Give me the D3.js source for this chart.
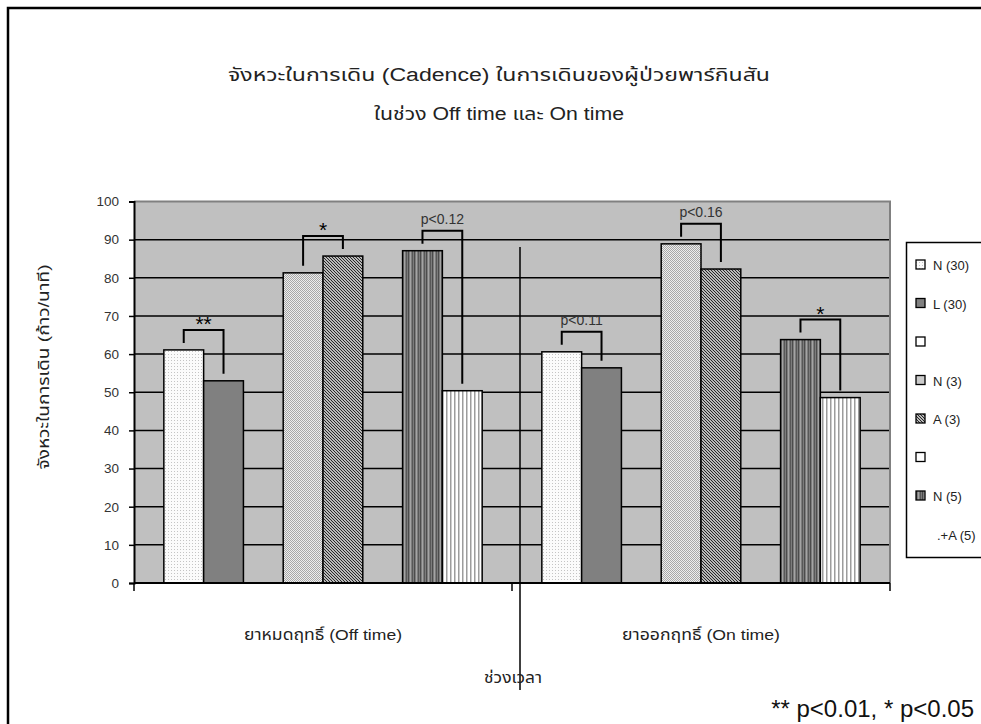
<!DOCTYPE html>
<html>
<head>
<meta charset="utf-8">
<script src="https://cdn.jsdelivr.net/npm/d3@7"></script>
<style>
  html, body { margin: 0; padding: 0; background: #fff; }
  svg { display: block; }
  text { font-family: Arial, "Liberation Sans", "Noto Sans Thai", "Noto Sans", sans-serif; }
</style>
</head>
<body>
<svg id="chart" width="981" height="724"></svg>
<script>
// Cadence (steps/min) of Parkinson's patients, Off time vs On time
const categories = ["ยาหมดฤทธิ์ (Off time)", "ยาออกฤทธิ์ (On time)"];
const seriesNames = ["N (30)", "L (30)", "", "N (3)", "A (3)", "", "N (5)", ".+A (5)"];
const offValues = [61.1, 53.0, null, 81.3, 85.7, null, 87.1, 50.4];
const onValues  = [60.6, 56.4, null, 88.9, 82.3, null, 63.8, 48.6];
const yTicks = [0, 10, 20, 30, 40, 50, 60, 70, 80, 90, 100];
// significance brackets: category index, the two series indices, label
const brackets = [
  { cat: 0, a: 0, b: 1, label: "**" },
  { cat: 0, a: 3, b: 4, label: "*" },
  { cat: 0, a: 6, b: 7, label: "p<0.12" },
  { cat: 1, a: 0, b: 1, label: "p<0.11" },
  { cat: 1, a: 3, b: 4, label: "p<0.16" },
  { cat: 1, a: 6, b: 7, label: "*" }
];
const titleLines = ["จังหวะในการเดิน (Cadence) ในการเดินของผู้ป่วยพาร์กินสัน", "ในช่วง Off time และ On time"];
const yTitle = "จังหวะในการเดิน (ก้าว/นาที)";
const xTitle = "ช่วงเวลา";
const footnote = "** p<0.01, * p<0.05";

const valuesByCat = [offValues, onValues];
const fills = ["url(#pN30)", "#808080", "none", "url(#pN3)", "url(#pA3)", "none", "url(#pN5)", "url(#pA5)"];

const svg = d3.select("#chart");
const plot = { left: 134, right: 890, top: 201.5, bottom: 583 };

// fill patterns
const defs = svg.append("defs");
const pN30 = defs.append("pattern").attr("id", "pN30").attr("width", 3).attr("height", 3).attr("patternUnits", "userSpaceOnUse");
pN30.append("rect").attr("width", 3).attr("height", 3).attr("fill", "#fbfbfb");
pN30.append("rect").attr("x", 0).attr("y", 0).attr("width", 1).attr("height", 1).attr("fill", "#c4c4c4");

const pN3 = defs.append("pattern").attr("id", "pN3").attr("width", 2).attr("height", 2).attr("patternUnits", "userSpaceOnUse");
pN3.append("rect").attr("width", 2).attr("height", 2).attr("fill", "#eeeeee");
pN3.append("rect").attr("x", 0).attr("y", 0).attr("width", 1).attr("height", 1).attr("fill", "#a8a8a8");
pN3.append("rect").attr("x", 1).attr("y", 1).attr("width", 1).attr("height", 1).attr("fill", "#a8a8a8");

const pA3 = defs.append("pattern").attr("id", "pA3").attr("width", 3).attr("height", 3).attr("patternUnits", "userSpaceOnUse");
pA3.append("rect").attr("width", 3).attr("height", 3).attr("fill", "#ffffff");
pA3.append("path").attr("d", "M-1,-1 L4,4 M-1,2 L1,4 M2,-1 L4,1").attr("stroke", "#202020").attr("stroke-width", 1.2);

const pN5 = defs.append("pattern").attr("id", "pN5").attr("width", 6).attr("height", 4).attr("patternUnits", "userSpaceOnUse");
pN5.append("rect").attr("width", 6).attr("height", 4).attr("fill", "#7c7c7c");
pN5.append("rect").attr("x", 0).attr("width", 1).attr("height", 4).attr("fill", "#4c4c4c");
pN5.append("rect").attr("x", 2).attr("width", 1).attr("height", 4).attr("fill", "#a4a4a4");
pN5.append("rect").attr("x", 4).attr("width", 1).attr("height", 4).attr("fill", "#585858");

const pA5 = defs.append("pattern").attr("id", "pA5").attr("width", 4).attr("height", 4).attr("patternUnits", "userSpaceOnUse");
pA5.append("rect").attr("width", 4).attr("height", 4).attr("fill", "#ffffff");
pA5.append("rect").attr("x", 2).attr("width", 1.5).attr("height", 4).attr("fill", "#9c9c9c");

// outer frame
svg.append("rect").attr("x", 8).attr("y", 8).attr("width", 1000).attr("height", 1000)
  .attr("fill", "none").attr("stroke", "#000").attr("stroke-width", 2.5);

// scales
const x0 = d3.scaleBand().domain(d3.range(categories.length)).range([plot.left, plot.right]).padding(0);
const x1 = d3.scaleBand().domain(d3.range(seriesNames.length)).range([0, x0.bandwidth()]).paddingInner(0).paddingOuter(0.75);
const y = d3.scaleLinear().domain([0, 100]).range([plot.bottom, plot.top]);

// plot background
svg.append("rect").attr("x", plot.left).attr("y", plot.top)
  .attr("width", plot.right - plot.left).attr("height", plot.bottom - plot.top).attr("fill", "#c0c0c0");

// gridlines
svg.append("g").selectAll("line").data(yTicks.filter(t => t > 0 && t < 100)).join("line")
  .attr("x1", plot.left).attr("x2", plot.right)
  .attr("y1", d => y(d)).attr("y2", d => y(d))
  .attr("stroke", "#000").attr("stroke-width", 1.5);

// top and right border of plot area
svg.append("path")
  .attr("d", `M${plot.left},${y(100)} H${plot.right} V${plot.bottom}`)
  .attr("fill", "none").attr("stroke", "#808080").attr("stroke-width", 2);

// bars
const barData = [];
valuesByCat.forEach((vals, ci) => vals.forEach((v, si) => { if (v != null) barData.push({ ci, si, v }); }));
svg.append("g").selectAll("rect").data(barData).join("rect")
  .attr("x", d => x0(d.ci) + x1(d.si))
  .attr("y", d => y(d.v))
  .attr("width", x1.bandwidth())
  .attr("height", d => y(0) - y(d.v))
  .attr("fill", d => fills[d.si])
  .attr("stroke", "#000").attr("stroke-width", 1.5);

// y axis
const yAxis = svg.append("g").attr("transform", `translate(${plot.left},0)`)
  .call(d3.axisLeft(y).tickValues(yTicks).tickSize(5).tickPadding(10));
yAxis.select(".domain").attr("stroke", "#000").attr("stroke-width", 2);
yAxis.selectAll(".tick line").attr("stroke", "#000").attr("stroke-width", 1.5);
yAxis.selectAll(".tick text").attr("font-size", 13.5).attr("fill", "#333");

// x axis with category boundary ticks
svg.append("line").attr("x1", plot.left).attr("x2", plot.right)
  .attr("y1", plot.bottom).attr("y2", plot.bottom).attr("stroke", "#000").attr("stroke-width", 2);
const bounds = [x0(0), x0(1), x0(1) + x0.bandwidth()];
svg.append("g").selectAll("line").data(bounds).join("line")
  .attr("x1", d => d).attr("x2", d => d)
  .attr("y1", plot.bottom).attr("y2", plot.bottom + 8)
  .attr("stroke", "#000").attr("stroke-width", 1.5);

// category labels
svg.append("g").selectAll("text").data(categories).join("text")
  .attr("x", (d, i) => x0(i) + x0.bandwidth() / 2)
  .attr("y", 640)
  .attr("text-anchor", "middle").attr("font-size", 15).attr("fill", "#222")
  .attr("textLength", 158).attr("lengthAdjust", "spacingAndGlyphs")
  .text(d => d);

// significance brackets
const bx = (ci, si) => x0(ci) + x1(si) + x1.bandwidth() / 2;
const bg = svg.append("g");
brackets.forEach(b => {
  const vals = valuesByCat[b.cat];
  const ya = y(vals[b.a]), yb = y(vals[b.b]);
  const top = Math.min(ya, yb) - 20;
  const xa = bx(b.cat, b.a), xb = bx(b.cat, b.b);
  bg.append("path")
    .attr("d", `M${xa},${ya - 7} V${top} H${xb} V${yb - 7}`)
    .attr("fill", "none").attr("stroke", "#000").attr("stroke-width", 2);
  const star = b.label.startsWith("*");
  bg.append("text")
    .attr("x", (xa + xb) / 2)
    .attr("y", star ? top + 1 : top - 7)
    .attr("text-anchor", "middle")
    .attr("font-size", star ? 21 : 14)
    .attr("fill", star ? "#000" : "#333")
    .text(b.label);
});

// separator between periods
svg.append("line").attr("x1", 520).attr("x2", 520).attr("y1", 247).attr("y2", 690)
  .attr("stroke", "#000").attr("stroke-width", 1.5);

// titles
const titleWidths = [542, 250];
svg.append("g").selectAll("text").data(titleLines).join("text")
  .attr("x", 499).attr("y", (d, i) => 81 + i * 39)
  .attr("text-anchor", "middle").attr("font-size", 18).attr("fill", "#222")
  .attr("textLength", (d, i) => titleWidths[i]).attr("lengthAdjust", "spacingAndGlyphs")
  .text(d => d);

svg.append("text")
  .attr("transform", "translate(49,367) rotate(-90)")
  .attr("text-anchor", "middle").attr("font-size", 15).attr("fill", "#222")
  .attr("textLength", 205).attr("lengthAdjust", "spacingAndGlyphs")
  .text(yTitle);

svg.append("text").attr("x", 513).attr("y", 683)
  .attr("text-anchor", "middle").attr("font-size", 15).attr("fill", "#222")
  .attr("textLength", 58).attr("lengthAdjust", "spacingAndGlyphs")
  .text(xTitle);

svg.append("text").attr("x", 974).attr("y", 717)
  .attr("text-anchor", "end").attr("font-size", 24).attr("fill", "#111")
  .text(footnote);

// legend
const lg = svg.append("g");
lg.append("rect").attr("x", 906.5).attr("y", 242.5).attr("width", 90).attr("height", 315)
  .attr("fill", "#fff").attr("stroke", "#000").attr("stroke-width", 1.5);
const item = lg.selectAll("g").data(seriesNames).join("g")
  .attr("transform", (d, i) => `translate(916,${265 + i * 38.5})`);
item.filter((d, i) => i < seriesNames.length - 1).append("rect")
  .attr("x", 0).attr("y", -5).attr("width", 9).attr("height", 9)
  .attr("fill", (d, i) => fills[i] === "none" ? "#fff" : fills[i])
  .attr("stroke", "#000").attr("stroke-width", 1.3);
item.append("text")
  .attr("x", (d, i) => i === seriesNames.length - 1 ? 21 : 17)
  .attr("y", 5).attr("font-size", 13).attr("fill", "#222")
  .text(d => d);
</script>
</body>
</html>
